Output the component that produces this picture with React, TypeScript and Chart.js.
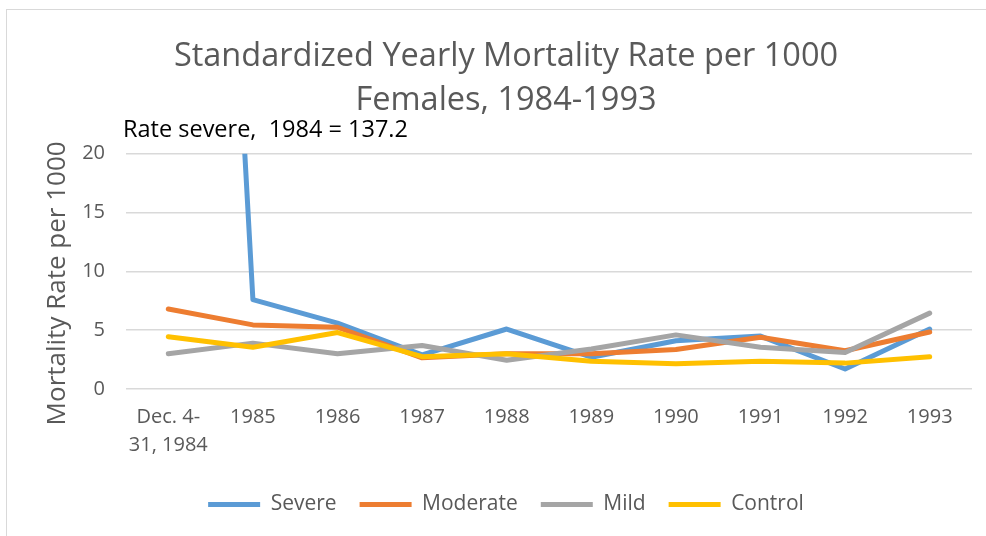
import React, { useEffect, useRef } from "react";
import { Chart, registerables } from "chart.js";

Chart.register(...registerables);

const categories: (string | string[])[] = [
  ["Dec. 4-", "31, 1984"],
  "1985",
  "1986",
  "1987",
  "1988",
  "1989",
  "1990",
  "1991",
  "1992",
  "1993",
];
const severe = [137.2, 7.6, 5.6, 2.9, 5.1, 2.7, 4.1, 4.5, 1.7, 5.1];
const moderate = [6.8, 5.45, 5.25, 2.65, 3.0, 3.0, 3.35, 4.4, 3.25, 4.85];
const mild = [3.0, 3.9, 3.0, 3.7, 2.45, 3.4, 4.6, 3.55, 3.1, 6.45];
const control = [4.45, 3.55, 4.8, 2.75, 3.0, 2.35, 2.15, 2.35, 2.2, 2.75];

const seriesNames = ["Severe", "Moderate", "Mild", "Control"];
const seriesColors = ["#5B9BD5", "#ED7D31", "#A5A5A5", "#FFC000"];
const yTicks = [0, 5, 10, 15, 20];
const titleLines = ["Standardized Yearly Mortality Rate per 1000", "Females, 1984-1993"];
const annotationText = "Rate severe,  1984 = 137.2";
const yAxisTitle = "Mortality Rate per 1000";

const FONT = "'Open Sans', 'DejaVu Sans', sans-serif";
const GREY = "#595959";

export default function App() {
  const ref = useRef<HTMLCanvasElement>(null);

  useEffect(() => {
    const canvas = ref.current;
    if (!canvas) return;

    const bgPlugin = {
      id: "bgBorder",
      beforeDraw(chart: any) {
        const ctx = chart.ctx;
        ctx.save();
        ctx.fillStyle = "#ffffff";
        ctx.fillRect(0, 0, chart.width, chart.height);
        ctx.strokeStyle = "#d9d9d9";
        ctx.lineWidth = 1;
        ctx.strokeRect(6.5, 9.5, chart.width + 40, chart.height + 40);
        ctx.restore();
      },
    };

    const textPlugin = {
      id: "extraText",
      afterDraw(chart: any) {
        const ctx = chart.ctx;
        const a = chart.chartArea;
        ctx.save();
        ctx.font = `23.5px ${FONT}`;
        ctx.fillStyle = "#000000";
        ctx.textAlign = "left";
        ctx.textBaseline = "alphabetic";
        ctx.fillText(annotationText, a.left - 3, a.top - 17);
        ctx.restore();

        // y-axis title
        ctx.save();
        ctx.font = `26px ${FONT}`;
        ctx.fillStyle = GREY;
        ctx.textAlign = "center";
        ctx.textBaseline = "middle";
        ctx.translate(a.left - 68, (a.top + a.bottom) / 2 + 12);
        ctx.rotate(-Math.PI / 2);
        ctx.fillText(yAxisTitle, 0, 0);
        ctx.restore();
      },
    };

    const allSeries = [severe, moderate, mild, control];

    const chart = new Chart(canvas, {
      type: "line",
      data: {
        labels: categories,
        datasets: allSeries.map((d, i) => ({
          label: seriesNames[i],
          data: d,
          borderColor: seriesColors[i],
          backgroundColor: seriesColors[i],
          borderWidth: 5,
          pointRadius: 0,
          pointHoverRadius: 0,
          tension: 0,
          borderCapStyle: "round",
          borderJoinStyle: "round",
          clip: 0,
          order: allSeries.length - 1 - i,
        })),
      },
      options: {
        responsive: false,
        animation: false,
        layout: { padding: { left: 40, right: 40, top: 0, bottom: 11 } },
        plugins: {
          tooltip: { enabled: false },
          title: {
            display: true,
            text: titleLines,
            color: GREY,
            font: { family: FONT, size: 32.5, weight: "normal", lineHeight: 1.35 },
            padding: { top: 35, bottom: 31 },
          },
          legend: {
            display: true,
            position: "bottom",
            labels: {
              color: GREY,
              font: { family: FONT, size: 21 },
              boxWidth: 52,
              boxHeight: 5,
              padding: 23,
              useBorderRadius: true,
              borderRadius: 2.5,
              generateLabels: () =>
                seriesNames.map((n, i) => ({
                  text: n,
                  fillStyle: seriesColors[i],
                  strokeStyle: seriesColors[i],
                  lineWidth: 0,
                  hidden: false,
                  datasetIndex: i,
                  fontColor: GREY,
                })),
            },
          },
        },
        scales: {
          x: {
            type: "category",
            offset: true,
            grid: { display: false, drawTicks: false },
            border: { display: false },
            afterFit: (s: any) => {
              s.height -= 2;
            },
            ticks: {
              color: GREY,
              font: { family: FONT, size: 20, lineHeight: 1.4 },
              padding: 14,
              maxRotation: 0,
              minRotation: 0,
              autoSkip: false,
            },
          },
          y: {
            type: "linear",
            min: 0,
            max: 20,
            afterBuildTicks: (s: any) => {
              s.ticks = yTicks.map((v) => ({ value: v }));
            },
            afterFit: (s: any) => {
              s.width = 86;
            },
            grid: { color: "#d9d9d9", lineWidth: 1.5, drawTicks: false },
            border: { display: false },
            ticks: {
              color: GREY,
              font: { family: FONT, size: 20 },
              padding: 21,
            },
            title: { display: false, text: yAxisTitle },
          },
        },
      },
      plugins: [bgPlugin, textPlugin],
    } as any);

    return () => chart.destroy();
  }, []);

  return (
    <div
      style={{
        position: "fixed",
        left: 0,
        top: 0,
        width: 986,
        height: 536,
        overflow: "hidden",
        background: "#ffffff",
      }}
    >
      <canvas ref={ref} width={1012} height={536} style={{ display: "block" }} />
    </div>
  );
}
